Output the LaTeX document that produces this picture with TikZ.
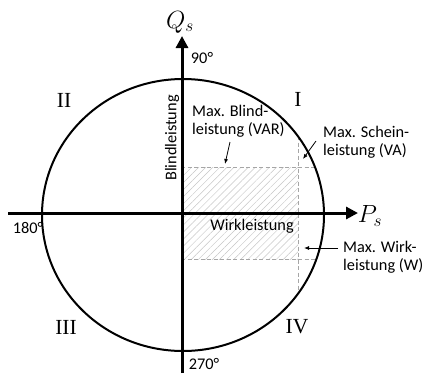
\documentclass[tikz,border=0pt]{standalone}
\usepackage{fontspec}
\setmainfont{Carlito}
\newfontfamily\romanfont{Liberation Serif}
\usetikzlibrary{arrows.meta,patterns.meta}
\begin{document}
\begin{tikzpicture}[x=1pt,y=-1pt,
  lbl/.style={font=\fontsize{16.3}{18}\selectfont, inner sep=0pt, align=left},
  quad/.style={font=\romanfont\fontsize{21.5}{23}\selectfont, inner sep=0pt},
  axis/.style={line width=3pt, -{Triangle[length=12pt,width=12pt]}},
  dashln/.style={gray!70, dashed, line width=0.7pt, dash pattern=on 4pt off 2.5pt},
  pointer/.style={line width=0.8pt, -{Latex[length=5pt,width=4pt]}},
  ]
\useasboundingbox (0,0) rectangle (423,373);
% hatched region
\fill[pattern={Lines[angle=45,distance=5pt,line width=0.5pt]}, pattern color=gray!45] (181,167) rectangle (298,259);
% dashed lines
\coordinate (dt1) at (181,167);
\coordinate (dt2) at (315,167);
\coordinate (db1) at (181,259);
\coordinate (db2) at (315,259);
\coordinate (dv1) at (298,136);
\coordinate (dv2) at (298,294);
\draw[dashln] (dt1) -- (dt2);
\draw[dashln] (db1) -- (db2);
\draw[dashln] (dv1) -- (dv2);
% circle
\draw[line width=2pt] (183,215) ellipse [x radius=141pt, y radius=136pt];
% axes
\coordinate (xs) at (8,213);
\coordinate (xe) at (358,213);
\coordinate (ys) at (182,373);
\coordinate (ye) at (182,36);
\draw[axis] (xs) -- (xe);
\draw[axis] (ys) -- (ye);
% axis labels
\node[font=\fontsize{23}{25}\selectfont, inner sep=0pt] (Q) at (180,22) {$Q_s$};
\node[font=\fontsize{23}{25}\selectfont, inner sep=0pt] (P) at (370,216) {$P_s$};
\node[lbl] (d90) at (202,58) {90°};
\node[lbl] (d180) at (28,228) {180°};
\node[lbl] (d270) at (204,364) {270°};
% quadrants
\node[quad] (q1) at (298,99) {I};
\node[quad] (q2) at (64,100) {II};
\node[quad] (q3) at (66,327) {III};
\node[quad] (q4) at (297,327) {IV};
% labels
\node[lbl, rotate=90] (bl) at (172,138) {Blindleistung};
\node[lbl] (wl) at (252,226) {Wirkleistung};
\node[lbl, anchor=west] (mb) at (192,121) {Max. Blind-\\leistung (VAR)};
\node[lbl, anchor=west] (ms) at (323,142) {Max. Schein-\\leistung (VA)};
\node[lbl, anchor=west] (mw) at (343,257) {Max. Wirk-\\leistung (W)};
% pointers
\coordinate (mbs) at (230,142);
\coordinate (mbe) at (225,164);
\coordinate (mss) at (316,141);
\coordinate (mse) at (303,159);
\coordinate (mws) at (338,248);
\coordinate (mwe) at (304,248);
\draw[pointer] (mbs) -- (mbe);
\draw[pointer] (mss) -- (mse);
\draw[pointer] (mws) -- (mwe);
\end{tikzpicture}
\end{document}
